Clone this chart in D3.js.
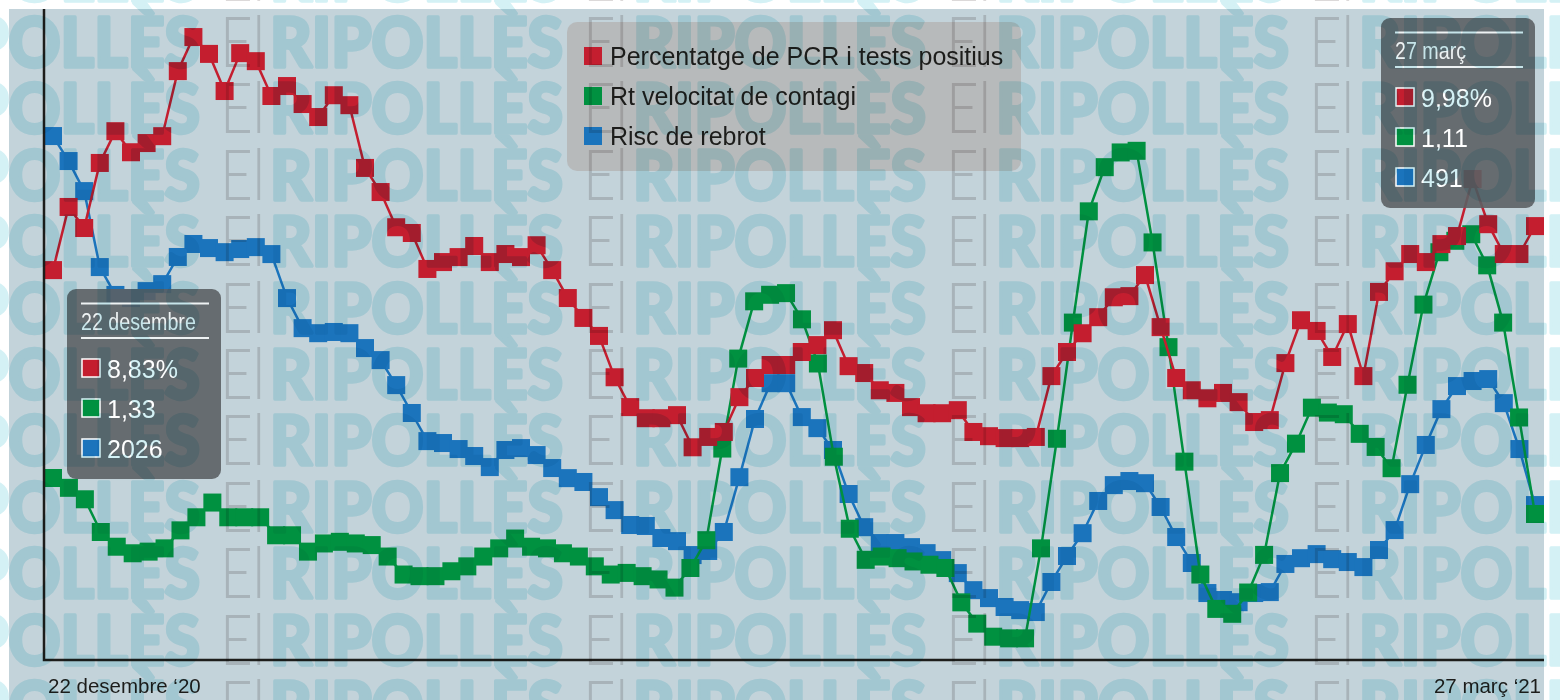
<!DOCTYPE html>
<html>
<head>
<meta charset="utf-8">
<script src="https://cdn.jsdelivr.net/npm/d3@7"></script>
<style>
  html, body { margin: 0; padding: 0; background: #fff; }
  svg { display: block; }
</style>
</head>
<body>
<div id="chart"></div>
<script>
// Axis labels and tooltip dates
const axisLabels = ["22 desembre ‘20", "27 març ‘21"]
const tooltipDates = ["22 desembre", "27 març"]

// Legend names
const seriesNames = ["Percentatge de PCR i tests positius", "Rt velocitat de contagi", "Risc de rebrot"]

// Percentatge de PCR i tests positius (%), daily 22/12 – 27/3
const positivity = [
  8.83, 10.48, 9.93, 11.63, 12.46, 11.91, 12.15, 12.33, 14.03, 14.92,
  14.48, 13.51, 14.50, 14.29, 13.38, 13.64, 13.17, 12.83, 13.40, 13.14,
  11.50, 10.87, 9.95, 9.80, 8.86, 9.04, 9.17, 9.46, 9.04, 9.25,
  9.17, 9.48, 8.83, 8.10, 7.58, 7.11, 6.03, 5.25, 4.96, 4.96,
  5.04, 4.20, 4.47, 4.60, 5.51, 6.01, 6.35, 6.35, 6.69, 6.87,
  7.26, 6.32, 6.14, 5.69, 5.62, 5.25, 5.09, 5.09, 5.17, 4.60,
  4.49, 4.44, 4.44, 4.47, 6.06, 6.69, 7.18, 7.60, 8.12, 8.15,
  8.70, 7.34, 6.01, 5.69, 5.48, 5.62, 5.38, 4.86, 4.91, 6.40,
  7.52, 7.24, 6.56, 7.42, 6.06, 8.26, 8.80, 9.25, 9.04, 9.51,
  9.72, 11.21, 10.03, 9.25, 9.25, 9.98
]

// Rt velocitat de contagi (fewer points, spread over the same period)
const rt = [
  1.33, 1.27, 1.20, 1.00, 0.91, 0.87, 0.88, 0.90, 1.01, 1.09,
  1.18, 1.09, 1.09, 1.09, 0.98, 0.98, 0.88, 0.93, 0.94, 0.93,
  0.92, 0.85, 0.74, 0.73, 0.73, 0.76, 0.79, 0.85, 0.90, 0.96,
  0.91, 0.90, 0.87, 0.85, 0.79, 0.74, 0.75, 0.73, 0.71, 0.66,
  0.78, 0.95, 1.51, 2.06, 2.41, 2.45, 2.46, 2.30, 2.03, 1.46,
  1.02, 0.83, 0.85, 0.84, 0.82, 0.80, 0.78, 0.57, 0.44, 0.36,
  0.35, 0.35, 0.90, 1.57, 2.28, 2.96, 3.23, 3.32, 3.33, 2.77,
  2.13, 1.43, 0.74, 0.53, 0.50, 0.63, 0.86, 1.36, 1.54, 1.76,
  1.73, 1.72, 1.60, 1.52, 1.39, 1.90, 2.39, 2.71, 2.78, 2.82,
  2.63, 2.28, 1.70, 1.11
]

// Risc de rebrot
const rebrot = [
  2026, 1922, 1797, 1481, 1365, 1352, 1381, 1410, 1523, 1577,
  1560, 1543, 1556, 1564, 1535, 1352, 1227, 1206, 1211, 1206,
  1144, 1094, 990, 874, 757, 749, 724, 695, 649, 720,
  728, 699, 645, 603, 587, 524, 470, 408, 404, 354,
  341, 283, 300, 379, 607, 849, 998, 998, 857, 811,
  720, 537, 399, 333, 333, 316, 291, 262, 208, 137,
  104, 67, 54, 46, 171, 279, 374, 508, 574, 591,
  582, 483, 358, 250, 125, 96, 87, 125, 129, 246,
  270, 287, 266, 254, 233, 304, 387, 578, 741, 890,
  986, 1007, 1015, 915, 724, 491
]

const width = 1560
const height = 700
const frame = { left: 44, right: 1544, top: 9, bottom: 660 }
const firstX = 53
const lastX = 1535
const markerSize = 18
const font = "'Liberation Sans', Arial, sans-serif"

const locale = d3.formatLocale({ decimal: ",", thousands: ".", grouping: [3], currency: ["", "€"] })

// every series is stretched over the whole period
const xFor = values => d3.scaleLinear().domain([0, values.length - 1]).range([firstX, lastX])

// each series has its own vertical scale
const yPositivity = d3.scaleLinear().domain([0, 15]).range([608, 34])
const yRt = d3.scaleLinear().domain([0, 3.5]).range([695.6, 123])
const yRebrot = d3.scaleLinear().domain([0, 2000]).range([623.1, 142.3])

const series = [
  { name: seriesNames[0], values: positivity, y: yPositivity, color: "#c41e2f", fmt: d => locale.format(".2f")(d) + "%" },
  { name: seriesNames[1], values: rt, y: yRt, color: "#009140", fmt: locale.format(".2f") },
  { name: seriesNames[2], values: rebrot, y: yRebrot, color: "#1b74bc", fmt: locale.format("d") }
]

const svg = d3.select("#chart")
  .append("svg")
  .attr("width", width)
  .attr("height", height)

svg.append("rect")
  .attr("width", width)
  .attr("height", height)
  .attr("fill", "#fff")

svg.append("rect")
  .attr("x", frame.top)
  .attr("y", frame.top)
  .attr("width", frame.right - frame.top)
  .attr("height", height - frame.top)
  .attr("fill", "#c3d3da")

// Draw lines + square markers (blue first, red on top)
const drawOrder = [series[2], series[1], series[0]]
drawOrder.forEach(s => {
  const x = xFor(s.values)
  const g = svg.append("g")

  g.append("path")
    .datum(s.values)
    .attr("d", d3.line().x((d, i) => x(i)).y(d => s.y(d)))
    .attr("fill", "none")
    .attr("stroke", s.color)
    .attr("stroke-width", 2.5)

  g.selectAll("rect")
    .data(s.values)
    .join("rect")
    .attr("x", (d, i) => x(i) - markerSize / 2)
    .attr("y", d => s.y(d) - markerSize / 2)
    .attr("width", markerSize)
    .attr("height", markerSize)
    .attr("fill", s.color)
})

// Axis lines
svg.append("path")
  .attr("d", `M${frame.left},${frame.top}V${frame.bottom}H${frame.right}`)
  .attr("fill", "none")
  .attr("stroke", "#1d1d1b")
  .attr("stroke-width", 2.5)

svg.append("text")
  .attr("x", firstX - 5)
  .attr("y", 693)
  .style("font-family", font)
  .style("font-size", "20.5px")
  .style("fill", "#1d1d1b")
  .text(axisLabels[0])

svg.append("text")
  .attr("x", lastX + 6)
  .attr("y", 693)
  .attr("text-anchor", "end")
  .style("font-family", font)
  .style("font-size", "20.5px")
  .style("fill", "#1d1d1b")
  .text(axisLabels[1])

// Legend
const legend = svg.append("g").attr("transform", "translate(567,22)")
legend.append("rect")
  .attr("width", 454)
  .attr("height", 149)
  .attr("rx", 10)
  .attr("fill", "#b6b7b9")
  .attr("fill-opacity", 0.92)

const legendItems = legend.selectAll(".legend-item")
  .data(series)
  .join("g")
  .attr("class", "legend-item")
  .attr("transform", (d, i) => `translate(17,${34 + i * 40})`)

legendItems.append("rect")
  .attr("y", -9)
  .attr("width", 18)
  .attr("height", 18)
  .attr("fill", d => d.color)

legendItems.append("text")
  .attr("x", 26)
  .attr("y", 9)
  .style("font-family", font)
  .style("font-size", "25px")
  .style("fill", "#1d1d1b")
  .text(d => d.name)

// Value boxes for the first and last day
function valueBox(left, top, title, index) {
  const g = svg.append("g").attr("transform", `translate(${left},${top})`)
  g.append("rect")
    .attr("width", 154)
    .attr("height", 190)
    .attr("rx", 9)
    .attr("fill", "#5c6064")
    .attr("fill-opacity", 0.9)

  g.selectAll("line")
    .data([14.5, 49])
    .join("line")
    .attr("x1", 14)
    .attr("x2", 142)
    .attr("y1", d => d)
    .attr("y2", d => d)
    .attr("stroke", "#eef2f3")
    .attr("stroke-width", 2)

  // tall, condensed date title
  g.append("text")
    .attr("transform", "translate(14,41) scale(0.82,1)")
    .style("font-family", font)
    .style("font-size", "24px")
    .style("fill", "#eef2f3")
    .text(title)

  const rows = g.selectAll(".row")
    .data(series)
    .join("g")
    .attr("class", "row")
    .attr("transform", (d, i) => `translate(14,${79 + i * 40})`)

  rows.append("rect")
    .attr("x", 1)
    .attr("y", -9)
    .attr("width", 18)
    .attr("height", 18)
    .attr("fill", d => d.color)
    .attr("stroke", "#fff")
    .attr("stroke-width", 1.5)

  rows.append("text")
    .attr("x", 26)
    .attr("y", 9.5)
    .style("font-family", font)
    .style("font-size", "25px")
    .style("fill", "#fff")
    .text(d => d.fmt(index === 0 ? d.values[0] : d.values[d.values.length - 1]))
}

valueBox(67, 289, tooltipDates[0], 0)
valueBox(1381, 18, tooltipDates[1], -1)

// Newspaper watermark, multiplied over everything
const rows = d3.range(12).map(r => 0.6 + r * 66.4)
const cols = d3.range(-1, 5).map(c => -93 + c * 363)
const marks = d3.cross(rows, cols)

const wm = svg.append("g")
  .style("mix-blend-mode", "multiply")
  .attr("pointer-events", "none")

wm.selectAll(".wm-name")
  .data(marks)
  .join("text")
  .attr("class", "wm-name")
  .attr("x", d => d[1])
  .attr("y", d => d[0])
  .attr("textLength", 293)
  .attr("lengthAdjust", "spacingAndGlyphs")
  .style("font-family", "Lato, sans-serif")
  .style("font-weight", 900)
  .style("font-size", "68px")
  .style("fill", "#d4f1f5")
  .style("stroke", "#d4f1f5")
  .style("stroke-width", 3.5)
  .style("stroke-linejoin", "round")
  .text("RIPOLLÈS")

wm.selectAll(".wm-el")
  .data(marks)
  .join("text")
  .attr("class", "wm-el")
  .attr("x", d => d[1] + 313)
  .attr("y", d => d[0])
  .attr("textLength", 45)
  .attr("lengthAdjust", "spacingAndGlyphs")
  .style("font-family", "Lato, sans-serif")
  .style("font-weight", 300)
  .style("font-size", "70px")
  .style("fill", "#dcd9d9")
  .text("El")
</script>
</body>
</html>
